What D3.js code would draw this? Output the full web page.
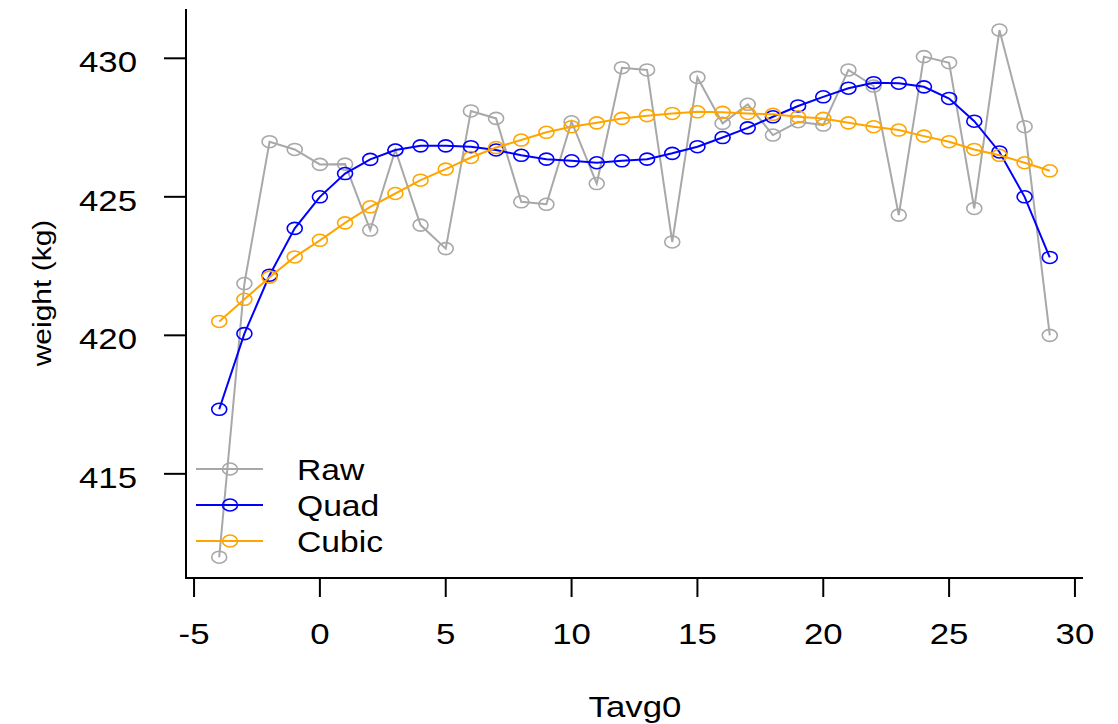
<!DOCTYPE html>
<meta charset="utf-8">
<style>
body { margin: 0; background: #fff; }
text { font-family: Arial, "Liberation Sans", sans-serif; fill: #000; }
</style>
<svg width="1118" height="724"></svg>
<script src="https://cdn.jsdelivr.net/npm/d3@7"></script>
<script>

// data
var tavg = [-4, -3, -2, -1, 0, 1, 2, 3, 4, 5, 6, 7, 8, 9, 10, 11, 12, 13, 14, 15,
            16, 17, 18, 19, 20, 21, 22, 23, 24, 25, 26, 27, 28, 29];

var raw = [411.99, 421.87, 426.99, 426.71, 426.17, 426.18, 423.80, 426.69, 423.98, 423.13,
           428.10, 427.83, 424.82, 424.73, 427.71, 425.48, 429.66, 429.58, 423.37, 429.31,
           427.65, 428.34, 427.23, 427.71, 427.59, 429.58, 429.00, 424.34, 430.06, 429.84,
           424.58, 431.02, 427.53, 420.00];

var quad = [417.33, 420.06, 422.17, 423.86, 425.00, 425.84, 426.35, 426.69, 426.84, 426.84,
            426.81, 426.69, 426.50, 426.36, 426.30, 426.23, 426.30, 426.36, 426.57, 426.81,
            427.14, 427.49, 427.89, 428.28, 428.61, 428.92, 429.12, 429.10, 428.97, 428.55,
            427.73, 426.62, 425.00, 422.81];

var cubic = [420.50, 421.30, 422.10, 422.83, 423.43, 424.06, 424.64, 425.12, 425.60, 426.00,
             426.42, 426.78, 427.05, 427.33, 427.53, 427.67, 427.83, 427.93, 428.01, 428.07,
             428.05, 428.01, 427.98, 427.89, 427.83, 427.67, 427.53, 427.41, 427.19, 426.99,
             426.71, 426.50, 426.23, 425.94];

var xTicks = [-5, 0, 5, 10, 15, 20, 25, 30];
var yTicks = [415, 420, 425, 430];

var seriesNames = ["Raw", "Quad", "Cubic"];
var seriesColors = ["#a8a8a8", "#0000ff", "#ffa500"];

var svg = d3.select("svg");

var x = d3.scaleLinear()
    .domain([-5.32, 30.32])
    .range([186, 1083]);

var y = d3.scaleLinear()
    .domain([411.24, 431.78])
    .range([578, 9]);

var sx = 1.16; // text in the picture is a little wide

// L shaped box
svg.append("path")
    .attr("d", "M" + x.range()[0] + "," + y.range()[1] + "V" + y.range()[0] + "H" + x.range()[1])
    .attr("fill", "none")
    .attr("stroke", "#000")
    .attr("stroke-width", 2);

// x axis
var xa = svg.append("g").attr("class", "x-axis");
xa.selectAll("line")
  .data(xTicks)
  .enter().append("line")
    .attr("x1", function(d) { return x(d); })
    .attr("x2", function(d) { return x(d); })
    .attr("y1", 578)
    .attr("y2", 597)
    .attr("stroke", "#000")
    .attr("stroke-width", 2);
xa.selectAll("text")
  .data(xTicks)
  .enter().append("text")
    .attr("transform", function(d) { return "translate(" + x(d) + ",644) scale(" + sx + ",1)"; })
    .attr("text-anchor", "middle")
    .attr("font-size", 30)
    .text(function(d) { return d; });

// y axis
var ya = svg.append("g").attr("class", "y-axis");
ya.selectAll("line")
  .data(yTicks)
  .enter().append("line")
    .attr("x1", 164)
    .attr("x2", 186)
    .attr("y1", function(d) { return y(d); })
    .attr("y2", function(d) { return y(d); })
    .attr("stroke", "#000")
    .attr("stroke-width", 2);
ya.selectAll("text")
  .data(yTicks)
  .enter().append("text")
    .attr("transform", function(d) { return "translate(137," + (y(d) + 14) + ") scale(" + sx + ",1)"; })
    .attr("text-anchor", "end")
    .attr("font-size", 30)
    .text(function(d) { return d; });

// axis titles
svg.append("text")
    .attr("transform", "translate(635,717) scale(" + sx + ",1)")
    .attr("text-anchor", "middle")
    .attr("font-size", 30)
    .text("Tavg0");

svg.append("text")
    .attr("transform", "translate(51,293) scale(0.85,1) rotate(-90)")
    .attr("text-anchor", "middle")
    .attr("font-size", 30)
    .text("weight (kg)");

// series
var series = [raw, quad, cubic];

var line = d3.line()
    .x(function(d, i) { return x(tavg[i]); })
    .y(function(d) { return y(d); });

series.forEach(function(vals, k) {
  var g = svg.append("g").attr("class", "series");
  g.append("path")
      .datum(vals)
      .attr("fill", "none")
      .attr("stroke", seriesColors[k])
      .attr("stroke-width", 2)
      .attr("d", line);
  g.selectAll("ellipse")
    .data(vals)
    .enter().append("ellipse")
      .attr("cx", function(d, i) { return x(tavg[i]); })
      .attr("cy", function(d) { return y(d); })
      .attr("rx", 7.5)
      .attr("ry", 6)
      .attr("fill", "none")
      .attr("stroke", seriesColors[k])
      .attr("stroke-width", 1.6);
});

// legend
var lg = svg.append("g")
    .attr("class", "legend")
  .selectAll("g")
  .data(seriesNames)
  .enter().append("g")
    .attr("transform", function(d, i) { return "translate(0," + (469 + i * 36) + ")"; });

lg.append("line")
    .attr("x1", 196)
    .attr("x2", 263)
    .attr("stroke", function(d, i) { return seriesColors[i]; })
    .attr("stroke-width", 2);

lg.append("ellipse")
    .attr("cx", 230)
    .attr("rx", 7.5)
    .attr("ry", 6)
    .attr("fill", "none")
    .attr("stroke", function(d, i) { return seriesColors[i]; })
    .attr("stroke-width", 1.6);

lg.append("text")
    .attr("transform", "translate(297,11) scale(" + sx + ",1)")
    .attr("font-size", 29)
    .text(function(d) { return d; });

</script>
